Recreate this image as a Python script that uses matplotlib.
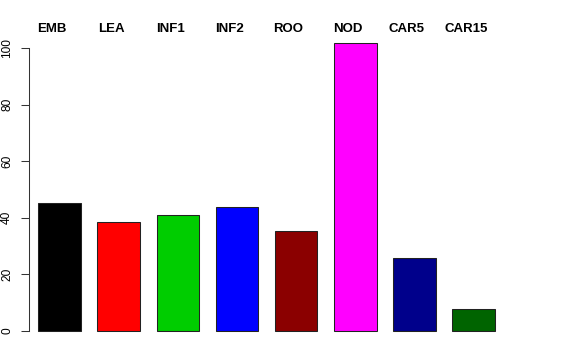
import matplotlib
matplotlib.use("Agg")
import matplotlib.pyplot as plt

categories = ["EMB", "LEA", "INF1", "INF2", "ROO", "NOD", "CAR5", "CAR15"]
values = [45.1, 38.6, 41.0, 43.9, 35.4, 101.7, 25.7, 7.9]
colors = ["#000000", "#FF0000", "#00CD00", "#0000FF", "#8B0000", "#FF00FF", "#00008B", "#006400"]
yticks = [0, 20, 40, 60, 80, 100]

plt.rcParams['font.family'] = ['Liberation Sans', 'DejaVu Sans']
W, H = 576, 360
fig = plt.figure(figsize=(W / 100, H / 100), dpi=100)

# axes pixel box
left_px, right_px = 29, 512
top_px, bottom_px = 31.5, 342.5
ax = fig.add_axes([left_px / W, (H - bottom_px) / H, (right_px - left_px) / W, (bottom_px - top_px) / H])

x = list(range(len(categories)))
ax.bar(x, values, width=0.72, color=colors, edgecolor="#222222", linewidth=0.75)
ax.set_xlim(-0.516, 7.65)
ax.set_ylim(-4.07, 105.9)

for s in ["top", "right", "bottom"]:
    ax.spines[s].set_visible(False)
ax.spines["left"].set_bounds(0, 100)
ax.spines["left"].set_linewidth(0.75)
ax.spines["left"].set_color("#333333")
ax.set_xticks([])
ax.set_yticks(yticks)
ax.set_yticklabels([str(v) for v in yticks], rotation=90, va="center", fontsize=8.6)
ax.tick_params(axis="y", length=6, width=0.75, color="#333333", pad=5.5)

for xi, lab in zip(x, categories):
    ax.annotate(lab, xy=(xi, 1), xycoords=("data", "figure fraction"),
                xytext=(-7.5 * 72 / 100, -29.5 * 72 / 100), textcoords="offset points",
                ha="center", va="center", fontsize=9.5, fontweight="bold")

fig.savefig("out.png", dpi=100)
